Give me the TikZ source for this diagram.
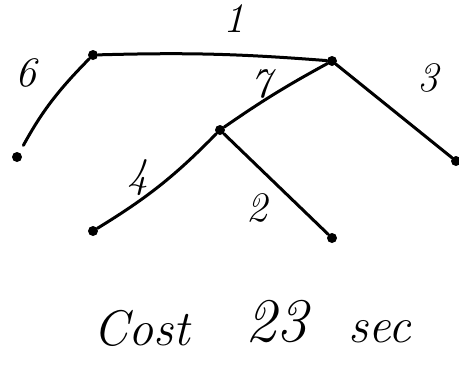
\documentclass[tikz,border=0pt]{standalone}
\usepackage{tikz}
\usetikzlibrary{arrows.meta}

\begin{document}
\begin{tikzpicture}[
  x=1pt, y=-1pt,
  dot/.style    = {circle, fill, inner sep=0pt, minimum size=10pt},
  edge/.style   = {line width=3pt, line cap=round},
  wlabel/.style = {font=\fontsize{42}{46}\selectfont\itshape, inner sep=0pt},
  note/.style   = {font=\fontsize{50}{54}\selectfont\itshape},
]
\useasboundingbox (0,0) rectangle (459,373);

% vertices
\node[dot] (a) at (93,55)   {};
\node[dot] (b) at (332,61)  {};
\node[dot] (c) at (17,157)  {};
\node[dot] (d) at (456,161) {};
\node[dot] (e) at (220,130) {};
\node[dot] (f) at (93,231)  {};
\node[dot] (g) at (332,238) {};

% edges
\draw[edge] (a) to[bend left=3]  (b);
\draw[edge, shorten >=8pt] (a) to[bend right=8] (c);
\draw[edge] (b) -- (d);
\draw[edge] (b) to[bend right=3] (e);
\draw[edge] (e) to[bend left=7]  (f);
\draw[edge] (e) -- (g);

% weights
\node[wlabel] (w1) at (234,19)  {1};
\node[wlabel] (w6) at (26,73)   {6};
\node[wlabel] (w3) at (428,78)  {3};
\node[wlabel] (w7) at (261,84)  {7};
\node[wlabel] (w4) at (138,178) {4};
\node[wlabel] (w2) at (257,208) {2};

% total
\node[note] (cost) at (142,328) {Cost};
\node[note, font=\fontsize{62}{66}\selectfont\itshape] (val) at (276,322) {23};
\node[note] (unit) at (380,332) {sec};
\end{tikzpicture}
\end{document}
